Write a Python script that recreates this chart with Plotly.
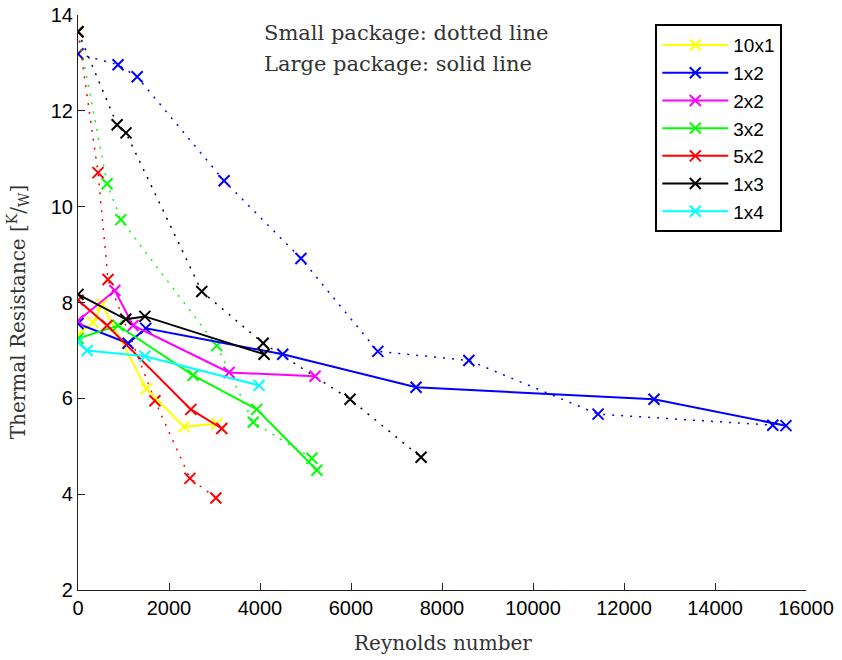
import plotly.graph_objects as go

# ---- data ----
names = ["10x1", "1x2", "2x2", "3x2", "5x2", "1x3", "1x4"]
colors = ["#FFFF00", "#0000FF", "#FF00FF", "#00FF00", "#FF0000", "#000000", "#00FFFF"]

# Large package (solid lines)
large_x = {
    "10x1": [0, 330, 530, 1500, 2330, 3050],
    "1x2": [0, 1100, 1490, 4500, 7430, 12660, 15560],
    "2x2": [0, 810, 1210, 3320, 5210],
    "3x2": [0, 880, 2530, 3930, 5250],
    "5x2": [0, 640, 2480, 3160],
    "1x3": [0, 1050, 1470, 4090],
    "1x4": [0, 200, 1470, 3980],
}
large_y = {
    "10x1": [7.33, 7.58, 7.96, 6.20, 5.41, 5.47],
    "1x2": [7.56, 7.15, 7.46, 6.92, 6.23, 5.98, 5.43],
    "2x2": [7.62, 8.25, 7.52, 6.54, 6.46],
    "3x2": [7.25, 7.52, 6.48, 5.77, 4.50],
    "5x2": [8.05, 7.52, 5.77, 5.37],
    "1x3": [8.17, 7.65, 7.71, 6.92],
    "1x4": [7.17, 7.00, 6.88, 6.27],
}

# Small package (dotted lines)
small_x = {
    "1x2": [0, 880, 1300, 3210, 4900, 6590, 8590, 11430, 15270],
    "3x2": [0, 640, 940, 3050, 3850, 5140],
    "5x2": [0, 440, 660, 1690, 2460, 3030],
    "1x3": [0, 860, 1055, 2720, 4070, 5980, 7540],
}
small_y = {
    "1x2": [13.19, 12.96, 12.71, 10.54, 8.92, 6.98, 6.79, 5.67, 5.44],
    "3x2": [13.65, 10.48, 9.73, 7.10, 5.50, 4.75],
    "5x2": [13.65, 10.71, 8.48, 5.95, 4.33, 3.92],
    "1x3": [13.65, 11.71, 11.54, 8.23, 7.15, 5.98, 4.77],
}

x_ticks = [0, 2000, 4000, 6000, 8000, 10000, 12000, 14000, 16000]
y_ticks = [2, 4, 6, 8, 10, 12, 14]

sans = "Liberation Sans, Arial, sans-serif"
serif = "DejaVu Serif, Liberation Serif, serif"
text_grey = "#333333"

fig = go.Figure()

for name, col in zip(names, colors):
    if name in small_x:
        fig.add_trace(go.Scatter(
            x=small_x[name], y=small_y[name], mode="lines+markers",
            line=dict(color=col, width=1.5, dash="2px,7px"),
            marker=dict(symbol="x-thin", size=11, line=dict(color=col, width=2)),
            showlegend=False, hoverinfo="skip", name=name + " small"))

for name, col in zip(names, colors):
    fig.add_trace(go.Scatter(
        x=large_x[name], y=large_y[name], mode="lines+markers",
        line=dict(color=col, width=2),
        marker=dict(symbol="x-thin", size=11, line=dict(color=col, width=2)),
        name=name))

fig.update_layout(
    width=842, height=660,
    margin=dict(l=78, r=36, t=15, b=70),
    paper_bgcolor="white", plot_bgcolor="white",
    font=dict(family=sans, size=20, color="black"),
    xaxis=dict(range=[0, 16000], tickvals=x_ticks, ticktext=[str(v) for v in x_ticks],
               showline=True, linecolor="#222", linewidth=1.2, mirror=False,
               ticks="inside", ticklen=7, tickcolor="#222", showgrid=False, zeroline=False,
               tickfont=dict(family=sans, size=20), automargin=False),
    yaxis=dict(range=[2, 14], tickvals=y_ticks, ticktext=[str(v) for v in y_ticks],
               showline=True, linecolor="#222", linewidth=1.2, mirror=False,
               ticks="inside", ticklen=7, tickcolor="#222", showgrid=False, zeroline=False,
               tickfont=dict(family=sans, size=20), automargin=False),
    legend=dict(x=0.793, y=0.984, xanchor="left", yanchor="top",
                bgcolor="white", bordercolor="black", borderwidth=2,
                font=dict(family=sans, size=19), itemwidth=66,
                tracegroupgap=0),
    showlegend=True,
)

# axis titles
fig.add_annotation(text="Reynolds number", xref="paper", yref="paper",
                   x=0.501, y=-0.092, xanchor="center", yanchor="middle", showarrow=False,
                   font=dict(family=serif, size=20, color=text_grey))
fig.add_annotation(text="Thermal Resistance [<sup>K</sup>/<sub>W</sub>]", xref="paper", yref="paper",
                   x=-0.0824, y=0.483, xanchor="center", yanchor="middle", showarrow=False,
                   textangle=-90, font=dict(family=serif, size=20, color=text_grey))

fig.add_annotation(text="Small package: dotted line", xref="paper", yref="paper",
                   x=0.2527, y=0.969, xanchor="left", yanchor="middle", showarrow=False,
                   font=dict(family=serif, size=21, color=text_grey))
fig.add_annotation(text="Large package: solid line", xref="paper", yref="paper",
                   x=0.2527, y=0.915, xanchor="left", yanchor="middle", showarrow=False,
                   font=dict(family=serif, size=21, color=text_grey))

fig.write_html("out.html",
               config={"displayModeBar": False},
               post_script="document.body.style.margin='0';document.body.style.overflow='hidden';")
